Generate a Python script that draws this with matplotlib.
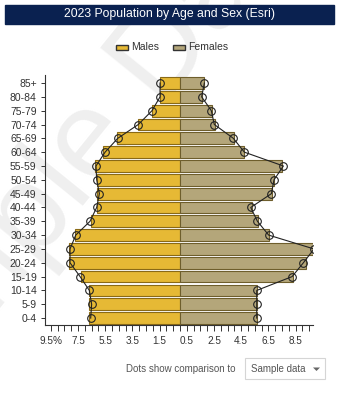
import matplotlib
matplotlib.use("Agg")
import matplotlib.pyplot as plt
from matplotlib.patches import Rectangle, Polygon
import numpy as np

plt.rcParams['font.family'] = ['Liberation Sans', 'DejaVu Sans']

age_groups = ["0-4", "5-9", "10-14", "15-19", "20-24", "25-29", "30-34", "35-39",
              "40-44", "45-49", "50-54", "55-59", "60-64", "65-69", "70-74",
              "75-79", "80-84", "85+"]
males = [6.67, 6.67, 6.67, 7.30, 8.14, 8.14, 7.72, 6.57, 6.08, 6.08, 6.13,
         6.25, 5.64, 4.61, 3.07, 2.06, 1.47, 1.47]
females = [5.64, 5.64, 5.64, 8.28, 9.24, 9.93, 6.57, 5.71, 5.27, 6.74, 6.91,
           7.52, 4.71, 3.97, 2.57, 2.33, 1.64, 1.79]
males_cmp = [6.57, 6.50, 6.67, 7.35, 8.09, 8.09, 7.67, 6.62, 6.13, 5.93, 6.13,
             6.18, 5.51, 4.58, 3.07, 2.06, 1.47, 1.47]
females_cmp = [5.64, 5.64, 5.64, 8.24, 9.07, 9.85, 6.52, 5.69, 5.20, 6.72, 6.91,
               7.60, 4.73, 3.92, 2.52, 2.30, 1.59, 1.79]
tick_values = [-9.5, -7.5, -5.5, -3.5, -1.5, 0.5, 2.5, 4.5, 6.5, 8.5]
tick_labels = ["9.5%", "7.5", "5.5", "3.5", "1.5", "0.5", "2.5", "4.5", "6.5", "8.5"]

male_color = "#e6b935"
male_edge = "#8a6a16"
female_color = "#b4a67a"
female_edge = "#6e5e2c"

W, H = 344, 400
fig = plt.figure(figsize=(W / 100, H / 100), dpi=100)

# faint watermark behind everything
fig.text(75 / W, 1 - 165 / H, "Sample Data", fontsize=90, color="#efefef",
         rotation=51, ha="center", va="center", zorder=-5)

# title bar
fig.patches.append(Rectangle((5 / W, 1 - 24 / H), 329 / W, 19 / H,
                             transform=fig.transFigure, facecolor="#0a2150",
                             edgecolor="#0a2150", zorder=1))
fig.text(169.5 / W, 1 - 14.5 / H, "2023 Population by Age and Sex (Esri)",
         color="white", fontsize=8.8, ha="center", va="center", zorder=2)

# legend
for px, label, fc, ec in [(116, "Males", male_color, male_edge),
                          (173, "Females", female_color, female_edge)]:
    fig.patches.append(Rectangle((px / W, 1 - 49.5 / H), 12 / W, 5 / H,
                                 transform=fig.transFigure, facecolor=fc,
                                 edgecolor="#333333", linewidth=1.0, zorder=2))
    fig.text((px + 15) / W, 1 - 47 / H, label, fontsize=7.5, color="#333333",
             ha="left", va="center", zorder=2)

ax = fig.add_axes([45 / W, 1 - 325 / H, 268.3 / W, 250 / H])
ax.set_facecolor("none")
y = np.arange(len(age_groups))
ax.barh(y, [-m for m in males], height=0.85, color=male_color,
        edgecolor=male_edge, linewidth=0.8, zorder=2)
ax.barh(y, females, height=0.85, color=female_color,
        edgecolor=female_edge, linewidth=0.8, zorder=2)
ax.plot([-m for m in males_cmp], y, color="#222222", linewidth=0.8,
        marker="o", markersize=5.5, markerfacecolor="none",
        markeredgecolor="#222222", markeredgewidth=0.8, zorder=3)
ax.plot(females_cmp, y, color="#222222", linewidth=0.8,
        marker="o", markersize=5.5, markerfacecolor="none",
        markeredgecolor="#222222", markeredgewidth=0.8, zorder=3)

ax.set_xlim(-9.93, 9.80)
ax.set_ylim(-0.5, 17.58)
ax.set_yticks(y)
ax.set_yticklabels(age_groups, fontsize=7.5, color="#333333")
ax.set_xticks(tick_values)
ax.set_xticklabels(tick_labels, fontsize=7.2, color="#333333")
ax.set_xticks(np.arange(-9.5, 9.6, 0.5), minor=True)
ax.tick_params(axis="x", which="both", length=4, width=0.7, color="#333333", pad=4)
ax.tick_params(axis="y", length=3, width=0.7, color="#333333", pad=3)
for s in ["top", "right"]:
    ax.spines[s].set_visible(False)
for s in ["left", "bottom"]:
    ax.spines[s].set_color("#333333")
    ax.spines[s].set_linewidth(0.8)

# bottom controls
fig.text(236 / W, 1 - 369 / H, "Dots show comparison to", fontsize=7,
         color="#555555", ha="right", va="center")
fig.patches.append(Rectangle((245 / W, 1 - 379 / H), 80 / W, 21 / H,
                             transform=fig.transFigure, facecolor="white",
                             edgecolor="#d5d5d5", linewidth=0.8))
fig.text(251 / W, 1 - 369 / H, "Sample data", fontsize=7, color="#555555",
         ha="left", va="center")
fig.patches.append(Polygon([(313 / W, 1 - 367.5 / H), (320 / W, 1 - 367.5 / H),
                            (316.5 / W, 1 - 371 / H)], closed=True,
                           transform=fig.transFigure, facecolor="#666666",
                           edgecolor="none"))

fig.savefig("out.png", dpi=100)
